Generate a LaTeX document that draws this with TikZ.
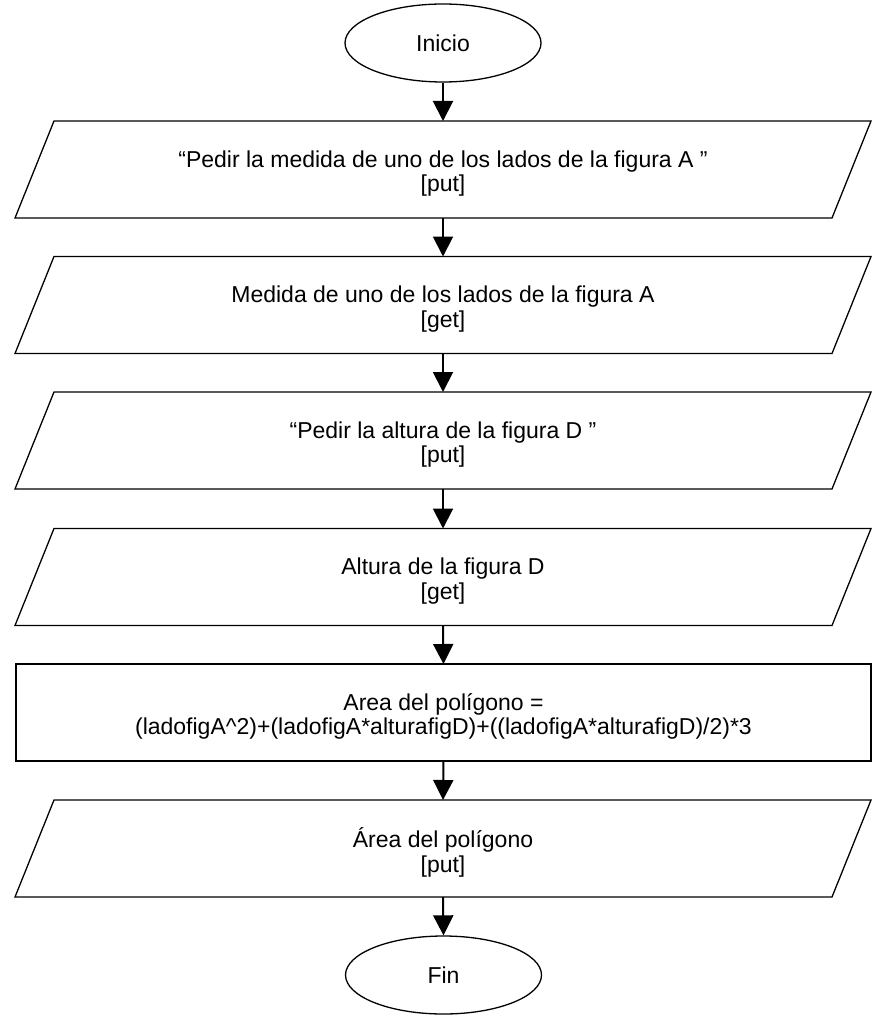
\documentclass[tikz,border=0pt]{standalone}
\usepackage{fontspec}
\setmainfont{Liberation Sans}
\usetikzlibrary{shapes.geometric,arrows.meta}
\begin{document}
\begin{tikzpicture}[x=1pt,y=-1pt,
  txtfont/.style={font=\fontsize{23}{24.5}\selectfont},
  term/.style={ellipse,draw,line width=1.3pt,minimum width=196pt,minimum height=78pt,inner sep=0pt,txtfont},
  iobox/.style={rectangle,minimum width=817pt,minimum height=97pt,inner sep=0pt,outer sep=0pt},
  procbox/.style={rectangle,draw,line width=1.3pt,minimum width=855pt,minimum height=97pt,inner sep=0pt,outer sep=0pt},
  boxtext/.style={align=center,inner sep=0pt,txtfont},
  border/.style={line width=1.3pt,line join=miter},
  flow/.style={line width=2pt,-{Triangle[width=20pt,length=20pt]}}]
\useasboundingbox[fill=white] (0,0) rectangle (893,1024);

\node[term] (ini) at (443,43) {Inicio};

\node[iobox] (p1) at (443,169.5) {};
\node[iobox] (p2) at (443,305) {};
\node[iobox] (p3) at (443,440.5) {};
\node[iobox] (p4) at (443,577) {};
\node[procbox] (r5) at (443.5,712.5) {};
\node[iobox] (p6) at (443,848.5) {};

\node[term] (fin) at (443.5,975) {Fin};

\foreach \b in {p1,p2,p3,p4,p6}{
  \draw[border] ([xshift=19.5pt]\b.north west) -- ([xshift=19.5pt]\b.north east)
    -- ([xshift=-19.5pt]\b.south east) -- ([xshift=-19.5pt]\b.south west) -- cycle;
}

\node[boxtext] (t1) at ([yshift=-4pt]p1.center) {“Pedir la medida de uno de los lados de la figura A ”\\{}[put]};
\node[boxtext] (t2) at ([yshift=-4pt]p2.center) {Medida de uno de los lados de la figura A\\{}[get]};
\node[boxtext] (t3) at ([yshift=-4pt]p3.center) {“Pedir la altura de la figura D ”\\{}[put]};
\node[boxtext] (t4) at ([yshift=-4pt]p4.center) {Altura de la figura D\\{}[get]};
\node[boxtext] (t5) at ([yshift=-4pt]r5.center) {Area del polígono =\\(ladofigA\^{}2)+(ladofigA*alturafigD)+((ladofigA*alturafigD)/2)*3};
\node[boxtext] (t6) at ([yshift=-4pt]p6.center) {Área del polígono\\{}[put]};

\draw[flow] (ini.south) -- (p1.north);
\draw[flow] (p1.south) -- (p2.north);
\draw[flow] (p2.south) -- (p3.north);
\draw[flow] (p3.south) -- (p4.north);
\draw[flow] (p4.south) -- (r5.north);
\draw[flow] (r5.south) -- (p6.north);
\draw[flow] (p6.south) -- (fin.north);
\end{tikzpicture}
\end{document}
